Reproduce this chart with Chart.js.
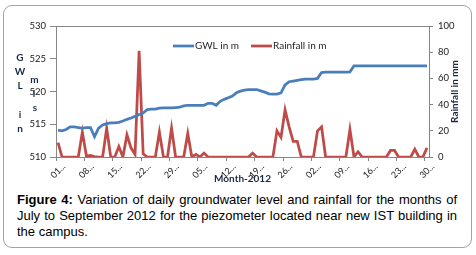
<!DOCTYPE html>
<html>
<head>
<meta charset="utf-8">
<script src="https://cdn.jsdelivr.net/npm/chart.js@4.4.1/dist/chart.umd.min.js"></script>
<style>
    html, body { margin: 0; padding: 0; background: #fff; }
    body { position: relative; width: 476px; height: 255px; overflow: hidden; }
    #frame {
        position: absolute; left: 3px; top: 5px; width: 469px; height: 243px;
        box-sizing: border-box; border: 1.5px solid #a3a3a3; border-radius: 9px;
    }
    #chart-gwl { position: absolute; left: 0; top: 0; }
    #caption {
        position: absolute; left: 17px; top: 192px; width: 440px; margin: 0;
        font: 13px "Liberation Sans", Arial, sans-serif; line-height: 16px;
        text-align: justify; color: #000;
    }
</style>
</head>
<body>
<div id="frame"></div>
<canvas id="chart-gwl" width="476" height="188"></canvas>
<p id="caption"><b>Figure 4:</b> Variation of daily groundwater level and rainfall for the months of July to September 2012 for the piezometer located near new IST building in the campus.</p>

<script>
// Data (1 Jul - 30 Sep 2012)
const dayLabels = [
    "01-Jul", "02-Jul", "03-Jul", "04-Jul", "05-Jul", "06-Jul", "07-Jul", "08-Jul", "09-Jul", "10-Jul",
    "11-Jul", "12-Jul", "13-Jul", "14-Jul", "15-Jul", "16-Jul", "17-Jul", "18-Jul", "19-Jul", "20-Jul",
    "21-Jul", "22-Jul", "23-Jul", "24-Jul", "25-Jul", "26-Jul", "27-Jul", "28-Jul", "29-Jul", "30-Jul",
    "31-Jul", "01-Aug", "02-Aug", "03-Aug", "04-Aug", "05-Aug", "06-Aug", "07-Aug", "08-Aug", "09-Aug",
    "10-Aug", "11-Aug", "12-Aug", "13-Aug", "14-Aug", "15-Aug", "16-Aug", "17-Aug", "18-Aug", "19-Aug",
    "20-Aug", "21-Aug", "22-Aug", "23-Aug", "24-Aug", "25-Aug", "26-Aug", "27-Aug", "28-Aug", "29-Aug",
    "30-Aug", "31-Aug", "01-Sep", "02-Sep", "03-Sep", "04-Sep", "05-Sep", "06-Sep", "07-Sep", "08-Sep",
    "09-Sep", "10-Sep", "11-Sep", "12-Sep", "13-Sep", "14-Sep", "15-Sep", "16-Sep", "17-Sep", "18-Sep",
    "19-Sep", "20-Sep", "21-Sep", "22-Sep", "23-Sep", "24-Sep", "25-Sep", "26-Sep", "27-Sep", "28-Sep",
    "29-Sep", "30-Sep",
];

const gwlValues = [
    514.1, 514.0, 514.2, 514.6, 514.6, 514.5, 514.4, 514.5, 514.5, 513.1,
    514.4, 514.9, 515.1, 515.2, 515.2, 515.3, 515.5, 515.75, 515.95, 516.2,
    516.5, 516.7, 517.25, 517.3, 517.3, 517.45, 517.5, 517.5, 517.5, 517.55,
    517.6, 517.8, 517.9, 517.9, 517.9, 517.9, 517.9, 518.2, 518.2, 517.9,
    518.5, 518.8, 519.05, 519.3, 519.8, 520.05, 520.2, 520.3, 520.3, 520.3,
    520.1, 519.9, 519.65, 519.6, 519.6, 519.8, 521.0, 521.5, 521.6, 521.7,
    521.8, 521.9, 521.9, 521.9, 522.0, 522.9, 522.95, 522.95, 522.95, 522.95,
    522.95, 522.95, 523.0, 523.9, 523.9, 523.9, 523.9, 523.9, 523.9, 523.9,
    523.9, 523.9, 523.9, 523.9, 523.9, 523.9, 523.9, 523.9, 523.9, 523.9,
    523.9, 523.9,
];

const rainfallValues = [
    11, 0, 0, 0, 0, 0, 19, 0.7, 1.3, 0.3,
    0, 0, 22, 0, 0, 8, 0, 17, 7, 2,
    81, 2.5, 0, 0, 0, 19, 0, 0, 22, 0,
    0, 0, 18, 0, 2, 0, 3, 0, 0, 0,
    0, 0, 0, 0, 0, 0, 0, 0, 3, 0,
    0, 0, 0, 0, 20, 15, 36, 23, 12, 12,
    0, 0, 0, 0, 20, 23, 0, 0, 0, 0,
    0, 0, 21, 0, 4, 0, 0, 0, 0, 0,
    0, 0, 5, 5, 0, 0, 0, 0, 6, 0,
    0, 7,
];

const gwlTicks = [510, 515, 520, 525, 530];
const rainTicks = [0, 20, 40, 60, 80, 100];

const seriesNames = ["GWL in m", "Rainfall in m"];
const seriesColors = ["#4a7ebb", "#be4b48"];

const AXIS_GREY = "#868686";
const TITLE_COLOR = "#1b2a44";
const FONT = "Lato, 'Liberation Sans', sans-serif";

// Kotak area plot, legend di dalam plot, judul sumbu kiri & kanan
const chartDecor = {
    id: "chartDecor",
    afterDraw(chart) {
        const { ctx, chartArea: area } = chart;
        ctx.save();

        ctx.strokeStyle = AXIS_GREY;
        ctx.lineWidth = 1;
        ctx.beginPath();
        ctx.moveTo(area.left, area.top + 0.5);
        ctx.lineTo(area.right, area.top + 0.5);
        ctx.stroke();

        // legend
        const legendX = [173, 251];
        ctx.font = `10px ${FONT}`;
        ctx.textBaseline = "middle";
        ctx.textAlign = "left";
        chart.data.datasets.forEach((ds, i) => {
            ctx.strokeStyle = ds.borderColor;
            ctx.lineWidth = 2.75;
            ctx.beginPath();
            ctx.moveTo(legendX[i], 46);
            ctx.lineTo(legendX[i] + 21, 46);
            ctx.stroke();
            ctx.fillStyle = "#262626";
            ctx.fillText(ds.label, legendX[i] + 22, 46);
        });

        // judul sumbu kiri, huruf bertumpuk
        ctx.fillStyle = TITLE_COLOR;
        ctx.font = `bold 10px ${FONT}`;
        ctx.textAlign = "center";
        [["G", 20, 58], ["W", 20, 72], ["L", 20, 86], ["i", 20, 115], ["n", 20, 129],
         ["m", 34.5, 79.5], ["l", 34, 94], ["s", 35, 108]].forEach(([ch, x, y]) => {
            ctx.fillText(ch, x, y);
        });

        // judul sumbu kanan
        ctx.translate(455, (area.top + area.bottom) / 2);
        ctx.rotate(-Math.PI / 2);
        ctx.fillText("Rainfall in mm", 0, 0);

        ctx.restore();
    },
};

function initGroundwaterChart() {
    const canvas = document.getElementById("chart-gwl");
    if (!canvas) return;

    const config = {
        type: "line",
        data: {
            labels: dayLabels,
            datasets: [
                {
                    label: seriesNames[0],
                    data: gwlValues,
                    yAxisID: "y",
                    borderColor: seriesColors[0],
                    borderWidth: 2.75,
                    pointRadius: 0,
                    tension: 0,
                },
                {
                    label: seriesNames[1],
                    data: rainfallValues,
                    yAxisID: "y1",
                    borderColor: seriesColors[1],
                    borderWidth: 2.75,
                    pointRadius: 0,
                    tension: 0,
                },
            ],
        },
        options: {
            responsive: false,
            animation: false,
            layout: { padding: { top: 26, left: 0, right: 0, bottom: 0 } },
            plugins: {
                legend: { display: false },
                tooltip: { enabled: false },
            },
            scales: {
                x: {
                    offset: true,
                    border: { display: true, color: AXIS_GREY, width: 1 },
                    grid: {
                        offset: true,
                        drawOnChartArea: false,
                        tickLength: 4,
                        color: (ctx) => (ctx.index % 7 === 0 ? AXIS_GREY : "rgba(0,0,0,0)"),
                    },
                    ticks: {
                        autoSkip: false,
                        minRotation: 45,
                        maxRotation: 45,
                        padding: 0,
                        labelOffset: 6,
                        color: "#1a1a1a",
                        font: { family: FONT, size: 9 },
                        callback: function (value, index) {
                            return index % 7 === 0
                                ? this.getLabelForValue(value).slice(0, 2) + "..."
                                : "";
                        },
                    },
                    title: {
                        display: true,
                        text: "Month-2012",
                        color: TITLE_COLOR,
                        font: { family: FONT, size: 10, weight: "bold" },
                        padding: { top: 0, bottom: 3 },
                    },
                    afterFit: (scale) => { scale.height = 31; },
                },
                y: {
                    position: "left",
                    min: gwlTicks[0],
                    max: gwlTicks[gwlTicks.length - 1],
                    border: { display: true, color: AXIS_GREY, width: 1 },
                    grid: { drawOnChartArea: false, tickLength: 6, color: AXIS_GREY },
                    ticks: {
                        stepSize: gwlTicks[1] - gwlTicks[0],
                        padding: 4,
                        color: "#1a1a1a",
                        font: { family: FONT, size: 9.5 },
                    },
                    afterFit: (scale) => { scale.width = 56; },
                },
                y1: {
                    position: "right",
                    min: rainTicks[0],
                    max: rainTicks[rainTicks.length - 1],
                    border: { display: true, color: AXIS_GREY, width: 1 },
                    grid: { drawOnChartArea: false, tickLength: 4, color: AXIS_GREY },
                    ticks: {
                        stepSize: rainTicks[1] - rainTicks[0],
                        padding: 5,
                        color: "#1a1a1a",
                        font: { family: FONT, size: 9.5 },
                    },
                    afterFit: (scale) => { scale.width = 47; },
                },
            },
        },
        plugins: [chartDecor],
    };

    canvas.chart = new Chart(canvas, config);
}

document.addEventListener("DOMContentLoaded", () => {
    initGroundwaterChart();
});
</script>
</body>
</html>
